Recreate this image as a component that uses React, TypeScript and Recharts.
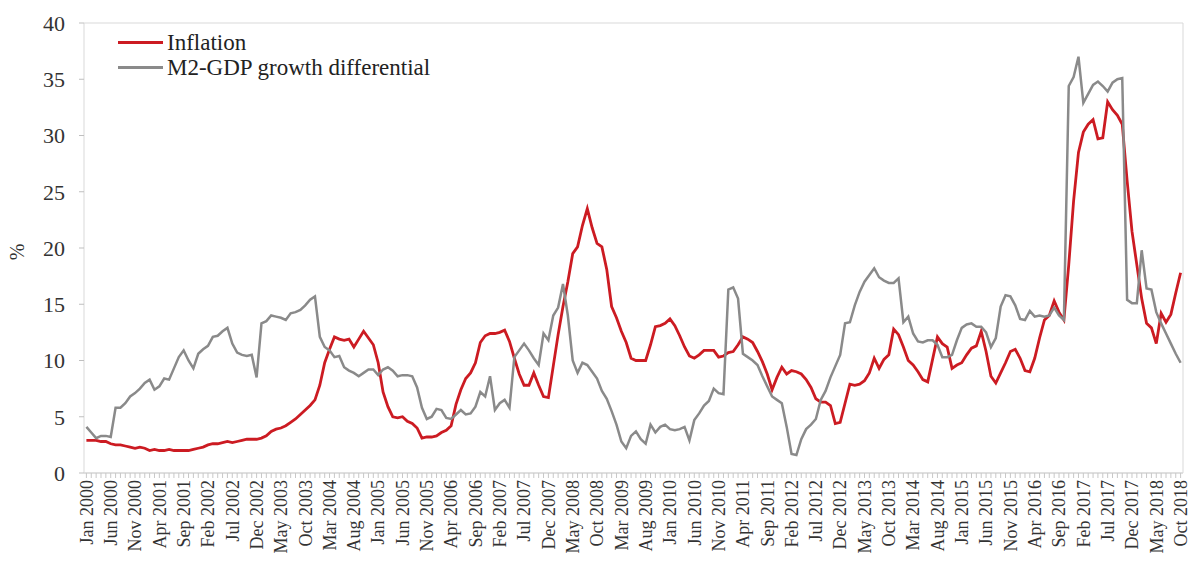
import React from "react";
import {
  LineChart,
  Line,
  XAxis,
  YAxis,
  Legend,
  ReferenceLine,
  Label,
} from "recharts";

const FONT = "'Liberation Serif', 'Times New Roman', serif";
const RED = "#CC1B22";
const GRAY = "#8A8A8A";
const FRAME = "#D9D9D9";

const MONTHS = ["Jan", "Feb", "Mar", "Apr", "May", "Jun", "Jul", "Aug", "Sep", "Oct", "Nov", "Dec"];
const YEARS = [2000, 2001, 2002, 2003, 2004, 2005, 2006, 2007, 2008, 2009, 2010, 2011, 2012, 2013, 2014, 2015, 2016, 2017, 2018];

// monthly inflation, Jan 2000 - Oct 2018 (%)
const inflation = [
  2.9, 2.9, 2.9, 2.8, 2.8, 2.6, 2.5, 2.5, 2.4, 2.3, 2.2, 2.3,
  2.2, 2.0, 2.1, 2.0, 2.0, 2.1, 2.0, 2.0, 2.0, 2.0, 2.1, 2.2,
  2.3, 2.5, 2.6, 2.6, 2.7, 2.8, 2.7, 2.8, 2.9, 3.0, 3.0, 3.0,
  3.1, 3.3, 3.7, 3.9, 4.0, 4.2, 4.5, 4.8, 5.2, 5.6, 6.0, 6.5,
  7.8, 9.8, 11.0, 12.1, 11.9, 11.8, 11.9, 11.2, 11.9, 12.6, 12.0, 11.4,
  9.8, 7.2, 5.9, 5.0, 4.9, 5.0, 4.6, 4.4, 4.0, 3.1, 3.2, 3.2,
  3.3, 3.6, 3.8, 4.2, 6.1, 7.4, 8.4, 8.9, 9.8, 11.6, 12.2, 12.4,
  12.4, 12.5, 12.7, 11.7, 10.2, 8.8, 7.8, 7.8, 8.9, 7.8, 6.8, 6.7,
  9.5, 12.3, 14.8, 17.0, 19.5, 20.1, 22.0, 23.5, 21.8, 20.4, 20.1, 18.1,
  14.8, 13.8, 12.6, 11.6, 10.2, 10.0, 10.0, 10.0, 11.4, 13.0, 13.1, 13.3,
  13.7, 13.1, 12.2, 11.2, 10.4, 10.2, 10.5, 10.9, 10.9, 10.9, 10.3, 10.4,
  10.7, 10.8, 11.4, 12.1, 11.9, 11.6, 10.8, 9.9, 8.8, 7.4, 8.5, 9.4,
  8.8, 9.1, 9.0, 8.8, 8.3, 7.6, 6.6, 6.3, 6.3, 6.0, 4.4, 4.5,
  6.2, 7.9, 7.8, 7.9, 8.2, 8.9, 10.2, 9.3, 10.1, 10.5, 12.8, 12.3,
  11.2, 10.0, 9.6, 9.0, 8.3, 8.1, 10.1, 12.1, 11.5, 11.2, 9.3, 9.6,
  9.8, 10.5, 11.1, 11.3, 12.6, 10.8, 8.6, 8.0, 8.9, 9.8, 10.8, 11.0,
  10.2, 9.1, 9.0, 10.2, 12.0, 13.6, 14.0, 15.3, 14.3, 13.6, 18.5, 24.2,
  28.5, 30.3, 31.0, 31.4, 29.7, 29.8, 33.0, 32.3, 31.8, 31.0, 26.0, 21.5,
  18.5, 15.5, 13.3, 12.9, 11.5, 14.2, 13.4, 14.1, 16.0, 17.8,
];

// M2 growth minus GDP growth (%)
const m2GdpGap = [
  4.1, 3.6, 3.1, 3.3, 3.3, 3.2, 5.8, 5.8, 6.2, 6.8, 7.1, 7.5,
  8.0, 8.3, 7.4, 7.7, 8.4, 8.3, 9.3, 10.3, 10.9, 10.0, 9.3, 10.6,
  11.0, 11.3, 12.1, 12.2, 12.6, 12.9, 11.5, 10.7, 10.5, 10.4, 10.5, 8.5,
  13.3, 13.5, 14.0, 13.9, 13.8, 13.6, 14.2, 14.3, 14.5, 14.9, 15.4, 15.7,
  12.1, 11.2, 10.9, 10.3, 10.4, 9.4, 9.1, 8.9, 8.6, 8.9, 9.2, 9.2,
  8.7, 9.2, 9.4, 9.1, 8.6, 8.7, 8.7, 8.6, 7.6, 5.8, 4.8, 5.0,
  5.7, 5.6, 4.9, 4.8, 5.2, 5.6, 5.2, 5.3, 5.9, 7.2, 6.8, 8.6,
  5.6, 6.2, 6.5, 5.8, 10.3, 10.9, 11.5, 10.9, 10.2, 9.6, 12.4, 11.8,
  14.0, 14.7, 16.8, 14.0, 10.0, 8.9, 9.8, 9.6, 9.0, 8.4, 7.3, 6.6,
  5.5, 4.3, 2.8, 2.2, 3.3, 3.7, 3.0, 2.6, 4.3, 3.6, 4.1, 4.3,
  3.9, 3.8, 3.9, 4.1, 2.9, 4.7, 5.3, 6.0, 6.4, 7.5, 7.1, 7.0,
  16.3, 16.5, 15.5, 10.6, 10.3, 10.0, 9.6, 8.6, 7.7, 6.8, 6.5, 6.2,
  4.1, 1.7, 1.6, 3.0, 3.9, 4.3, 4.8, 6.5, 7.3, 8.5, 9.5, 10.5,
  13.3, 13.4, 14.9, 16.1, 17.0, 17.6, 18.2, 17.4, 17.1, 16.9, 16.9, 17.3,
  13.4, 13.9, 12.4, 11.7, 11.6, 11.8, 11.8, 11.4, 10.3, 10.3, 10.5, 11.8,
  12.9, 13.2, 13.3, 13.0, 13.0, 12.5, 11.2, 12.0, 14.8, 15.8, 15.7, 14.9,
  13.7, 13.6, 14.4, 13.9, 14.0, 13.9, 14.0, 14.7, 14.0, 13.6, 34.4, 35.2,
  37.0, 32.9, 33.7, 34.5, 34.8, 34.4, 33.9, 34.7, 35.0, 35.1, 15.4, 15.1,
  15.1, 19.8, 16.4, 16.3, 14.3, 13.3, 12.4, 11.5, 10.6, 9.8,
];

const Y_TICKS = [0, 5, 10, 15, 20, 25, 30, 35, 40];

const SERIES = [
  { key: "inflation", name: "Inflation", color: RED, width: 2.8 },
  { key: "m2", name: "M2-GDP growth differential", color: GRAY, width: 2.5 },
];

const labels = YEARS.flatMap((y) => MONTHS.map((m) => `${m} ${y}`)).slice(0, inflation.length);

const data = labels.map((label, i) => ({
  label,
  inflation: inflation[i],
  m2: m2GdpGap[i],
}));

// every month gets a tick mark, only every 5th month gets a label
const MonthTick = ({ x, y, payload, index }: any) => {
  if (index % 5 !== 0) return null;
  return (
    <text
      x={x}
      y={y}
      transform={`rotate(-90, ${x}, ${y})`}
      textAnchor="end"
      dy="0.35em"
      fontSize={18}
      fontFamily={FONT}
      fill="#333"
    >
      {payload.value}
    </text>
  );
};

const LegendBox = () => (
  <div style={{ fontFamily: FONT, fontSize: 23, color: "#222", lineHeight: "25px" }}>
    {SERIES.map((s) => (
      <div key={s.key} style={{ display: "flex", alignItems: "center", whiteSpace: "nowrap" }}>
        <span
          style={{
            display: "inline-block",
            width: 45,
            height: 3,
            background: s.color,
            marginRight: 4,
          }}
        />
        {s.name}
      </div>
    ))}
  </div>
);

export default function App() {
  return (
    <div style={{ position: "absolute", left: 0, top: 0, background: "#fff" }}>
      <LineChart
        width={1190}
        height={574}
        data={data}
        margin={{ top: 23, right: 6, left: 0, bottom: 0 }}
      >
        <XAxis
          dataKey="label"
          interval={0}
          height={101}
          padding={{ left: 2.4, right: 2.4 }}
          axisLine={{ stroke: "#BFBFBF" }}
          tickLine={{ stroke: "#C8C8C8" }}
          tickSize={5}
          tick={<MonthTick />}
        />
        <YAxis
          yAxisId="left"
          domain={[0, 40]}
          ticks={Y_TICKS}
          width={84}
          axisLine={{ stroke: FRAME }}
          tickLine={{ stroke: "#BFBFBF" }}
          tickSize={5}
          tickMargin={14}
          tick={{ fontSize: 22, fontFamily: FONT, fill: "#333" }}
        >
          <Label
            content={({ viewBox }: any) => {
              const cx = viewBox.x + 17;
              const cy = viewBox.y + viewBox.height / 2 + 4;
              return (
                <text
                  x={cx}
                  y={cy}
                  transform={`rotate(-90, ${cx}, ${cy})`}
                  textAnchor="middle"
                  dy="0.35em"
                  fontSize={20}
                  fontFamily={FONT}
                  fill="#333"
                >
                  %
                </text>
              );
            }}
          />
        </YAxis>
        <YAxis
          yAxisId="right"
          orientation="right"
          domain={[0, 40]}
          width={1}
          tick={false}
          tickLine={false}
          axisLine={{ stroke: FRAME }}
        />
        <ReferenceLine yAxisId="left" y={40} stroke={FRAME} />
        <Legend
          layout="horizontal"
          verticalAlign="middle"
          align="center"
          wrapperStyle={{ left: 118, top: 30, width: 420, height: 50 }}
          content={<LegendBox />}
        />
        {SERIES.map((s) => (
          <Line
            key={s.key}
            yAxisId="left"
            type="linear"
            dataKey={s.key}
            name={s.name}
            stroke={s.color}
            strokeWidth={s.width}
            dot={false}
            activeDot={false}
            isAnimationActive={false}
          />
        ))}
      </LineChart>
    </div>
  );
}
